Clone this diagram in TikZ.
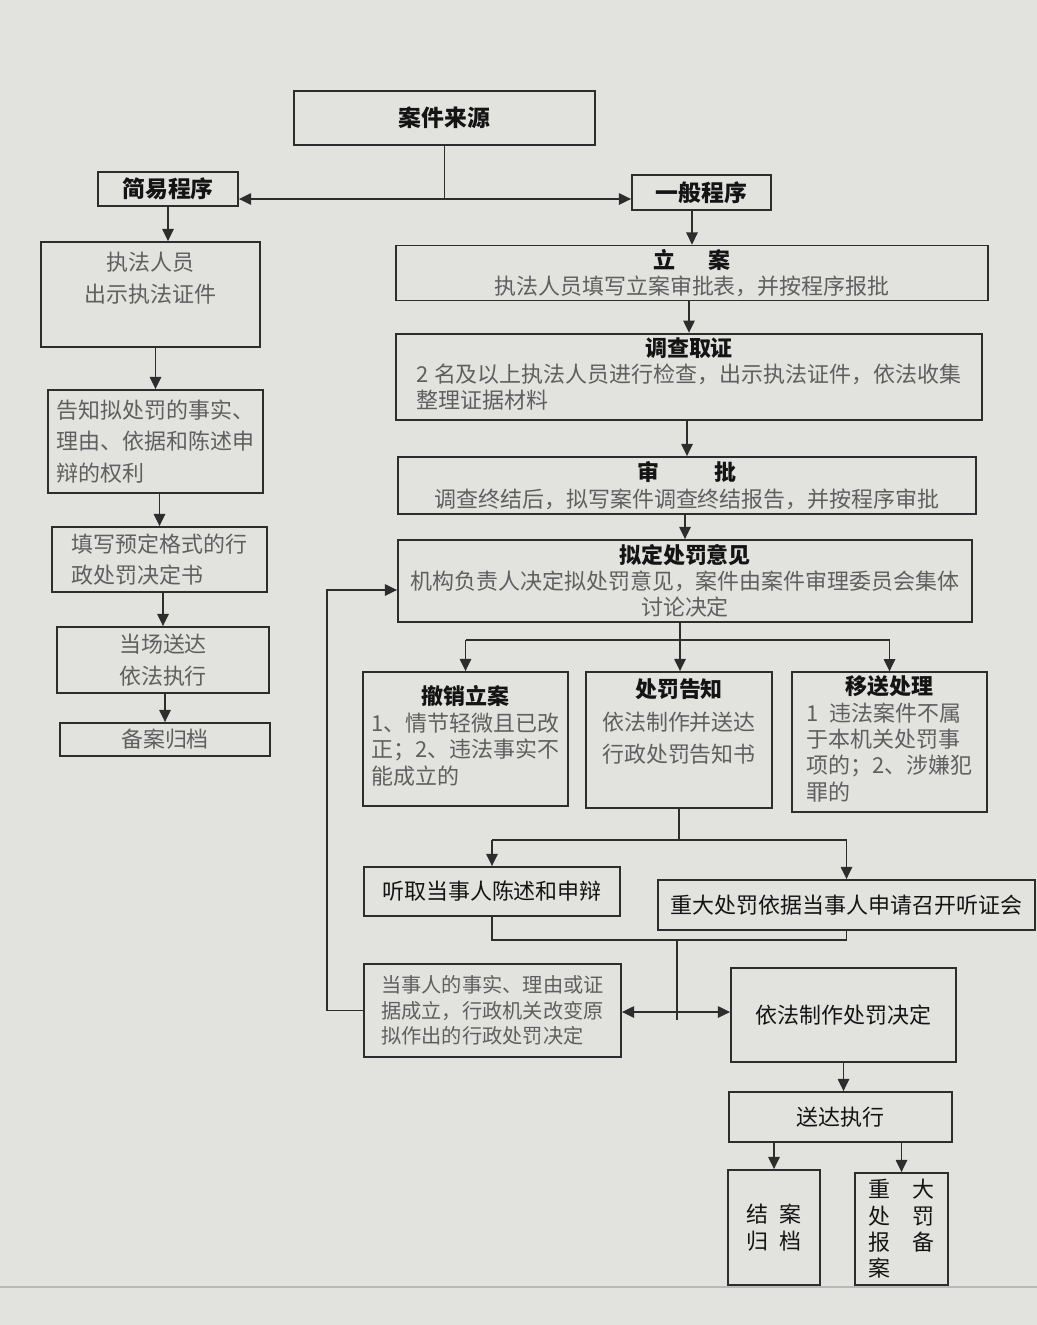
\documentclass[tikz,border=0pt]{standalone}
\usepackage{fontspec}
\setmainfont{Noto Sans CJK SC}
\usetikzlibrary{arrows.meta, positioning, calc}
\definecolor{paper}{RGB}{226,227,223}
\definecolor{lineink}{RGB}{45,45,45}
\definecolor{titleink}{RGB}{20,20,20}
\definecolor{bodyink}{RGB}{95,95,95}

\begin{document}
\begin{tikzpicture}[
    x=0.02cm, y=-0.02cm,
    box/.style={rectangle, draw=lineink, line width=1pt, fill=paper, inner sep=2pt, font=\fontsize{12.5}{15}\selectfont, text=bodyink, align=center},
    tall/.style={font=\fontsize{12.5}{18}\selectfont},
    head/.style={text=titleink, font=\fontsize{13}{16}\selectfont\bfseries},
    dark/.style={text=titleink},
    wh/.style 2 args={minimum width=#1*0.02cm, minimum height=#2*0.02cm},
    link/.style={line width=1pt, draw=lineink},
    arrow/.style={-{Stealth[length=7pt, width=6.5pt, inset=0pt]}, line width=1pt, draw=lineink},
    darrow/.style={{Stealth[length=7pt, width=6.5pt, inset=0pt]}-{Stealth[length=7pt, width=6.5pt, inset=0pt]}, line width=1pt, draw=lineink},
]
\fill[paper] (0,0) rectangle (1037,1325);
\useasboundingbox (0,0) rectangle (1037,1325);
\draw[gray!55, line width=0.8pt] (0,1287) -- (1037,1287);

% Source and the two procedures
\node[box, head, wh={301}{54}] (src) at (444.5,118) {案件来源};
\node[box, head, wh={140}{34}] (simple) at (168,189) {简易程序};
\node[box, head, wh={139}{35}] (general) at (701.5,192.5) {一般程序};

% Simple procedure
\node[box, tall, wh={219}{105}] (show) at (150.5,294.5)
    {\raisebox{8pt}[\height][\depth]{\begin{tabular}{@{}c@{}}执法人员\\出示执法证件\end{tabular}}};
\node[box, tall, align=left, wh={215}{103}] (inform) at (155.5,441.5) {告知拟处罚的事实、\\理由、依据和陈述申\\辩的权利};
\node[box, tall, align=left, wh={215}{65}] (fillin) at (159.5,559.5) {填写预定格式的行\\政处罚决定书};
\node[box, tall, wh={212}{66}] (onsite) at (163,660) {当场送达\\依法执行};
\node[box, wh={210}{33}] (archive) at (165,739.5) {备案归档};

% General procedure
\node[box, wh={592}{54}] (register) at (692,273)
    {{\color{titleink}\bfseries 立\hspace{1.5em}案}\\执法人员填写立案审批表，并按程序报批};
\node[box, wh={586}{86}] (investigate) at (689,377)
    {\begin{tabular}{@{}l@{}}\multicolumn{1}{@{}c@{}}{\color{titleink}\bfseries 调查取证}\\2 名及以上执法人员进行检查，出示执法证件，依法收集\\整理证据材料\end{tabular}};
\node[box, wh={578}{57}] (approve) at (687,485.5)
    {{\color{titleink}\bfseries 审\hspace{2.5em}批}\\调查终结后，拟写案件调查终结报告，并按程序审批};
\node[box, wh={574}{82}] (opinion) at (685,581)
    {{\color{titleink}\bfseries 拟定处罚意见}\\机构负责人决定拟处罚意见，案件由案件审理委员会集体\\讨论决定};

% Three outcomes
\node[box, wh={205}{134}] (revoke) at (465.5,739)
    {\begin{tabular}{@{}l@{}}\multicolumn{1}{@{}c@{}}{\color{titleink}\bfseries 撤销立案}\\1、情节轻微且已改\\正；2、违法事实不\\能成立的\end{tabular}};
\node[box, wh={186}{136}] (notice) at (679,740)
    {\raisebox{9pt}[\height][\depth]{\begin{tabular}{@{}c@{}}{\color{titleink}\bfseries 处罚告知}\\[4pt]依法制作并送达\\[3pt]行政处罚告知书\end{tabular}}};
\node[box, wh={195}{136}] (transfer) at (889.5,742)
    {\begin{tabular}{@{}l@{}}\multicolumn{1}{@{}c@{}}{\color{titleink}\bfseries 移送处理}\\1\enspace 违法案件不属\\于本机关处罚事\\项的；2、涉嫌犯\\罪的\end{tabular}};

% Hearing and decision
\node[box, dark, wh={256}{49}] (hear) at (492,891.5) {听取当事人陈述和申辩};
\node[box, dark, wh={377}{50}] (hearing) at (846.5,905) {重大处罚依据当事人申请召开听证会};
\node[box, align=left, font=\fontsize{11.5}{14.5}\selectfont, wh={257}{93}] (change) at (492.5,1010.5)
    {当事人的事实、理由或证\\据成立，行政机关改变原\\拟作出的行政处罚决定};
\node[box, dark, wh={225}{94}] (decide) at (843.5,1015) {依法制作处罚决定};
\node[box, dark, wh={223}{50}] (serve) at (840.5,1117) {送达执行};
\node[box, dark, align=left, wh={92}{115}] (close) at (774,1227.5) {结\hspace{0.5em}案\\归\hspace{0.5em}档};
\node[box, dark, align=left, wh={93}{112}] (report) at (901.5,1229) {重\hspace{1em}大\\处\hspace{1em}罚\\报\hspace{1em}备\\案};

% Arrows
\coordinate (split) at (444.5,199);
\draw[link] (src) -- (split);
\draw[arrow] (split) -- (split -| simple.east);
\draw[arrow] (split) -- (split -| general.west);

\draw[arrow] (simple.south) -- (simple.south |- show.north);
\draw[arrow] (inform.north |- show.south) -- (inform.north);
\draw[arrow] (fillin.north |- inform.south) -- (fillin.north);
\draw[arrow] (onsite.north |- fillin.south) -- (onsite.north);
\draw[arrow] (archive.north |- onsite.south) -- (archive.north);

\draw[arrow] (register.north |- general.south) -- (register.north);
\draw[arrow] (investigate.north |- register.south) -- (investigate.north);
\draw[arrow] (approve.north |- investigate.south) -- (approve.north);
\draw[arrow] (opinion.north |- approve.south) -- (opinion.north);

\coordinate (fork) at (680,640);
\draw[link] (opinion.south -| fork) -- (fork);
\draw[link] (fork -| revoke.north) -- (fork -| transfer.north);
\draw[arrow] (fork -| revoke.north) -- (revoke.north);
\draw[arrow] (fork) -- (fork |- notice.north);
\draw[arrow] (fork -| transfer.north) -- (transfer.north);

\coordinate (fork2) at (679,840);
\draw[link] (notice.south) -- (fork2);
\draw[link] (fork2 -| hear.north) -- (fork2 -| hearing.north);
\draw[arrow] (fork2 -| hear.north) -- (hear.north);
\draw[arrow] (fork2 -| hearing.north) -- (hearing.north);

\coordinate (merge) at (677,940);
\coordinate (meet) at (677,1012);
\draw[link] (hear.south) -- (hear.south |- merge) -- (hearing.south |- merge) -- (hearing.south);
\draw[link] (merge) -- (meet) -- ++(0,8);
\draw[darrow] (change.east |- meet) -- (decide.west |- meet);

\coordinate (loop) at (327,590);
\draw[arrow] (change.west) -| (loop) -- (loop -| opinion.west);

\draw[arrow] (decide.south) -- (decide.south |- serve.north);
\draw[arrow] (close.north |- serve.south) -- (close.north);
\draw[arrow] (report.north |- serve.south) -- (report.north);

\end{tikzpicture}
\end{document}
